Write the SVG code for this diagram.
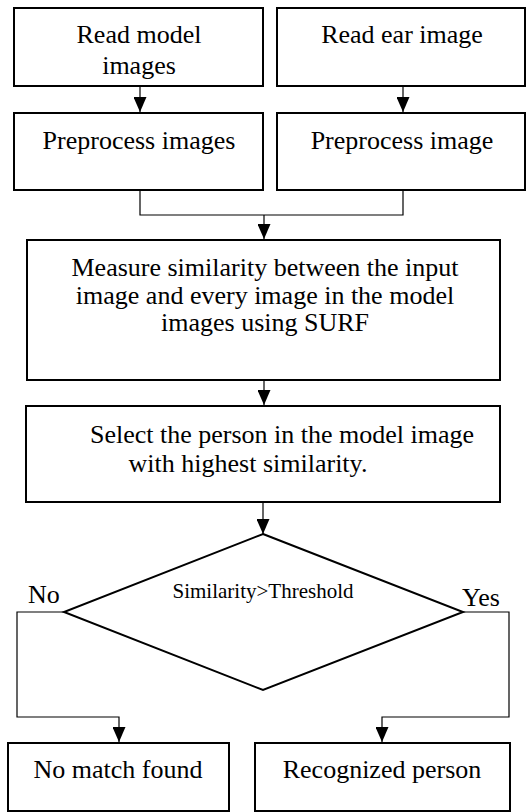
<svg xmlns="http://www.w3.org/2000/svg" width="527" height="812" viewBox="0 0 527 812">
<style>
  .box { fill: #fff; stroke: #000; stroke-width: 2; }
  .dia { fill: none; stroke: #000; stroke-width: 2; }
  .con { fill: none; stroke: #000; stroke-width: 1.2; }
  .arr { fill: none; stroke: #000; stroke-width: 1.2; marker-end: url(#ah); }
  .t { font-family: 'Liberation Serif', 'Times New Roman', serif; font-size: 26px; fill: #000; }
  .c { text-anchor: middle; }
  .s { font-size: 21px; }
</style>
<defs>
  <marker id="ah" markerUnits="userSpaceOnUse" markerWidth="15" markerHeight="13" refX="15" refY="6.5" orient="auto" viewBox="0 0 15 13">
    <path d="M0,0 L15,6.5 L0,13 z" fill="#000"/>
  </marker>
  <clipPath id="clip1"><rect x="15" y="9" width="247" height="73"/></clipPath>
</defs>
<g id="connectors">
  <line class="arr" x1="140" y1="86" x2="140" y2="112"/>
  <line class="arr" x1="403" y1="86" x2="403" y2="112"/>
  <polyline class="con" points="140,190 140,215 403,215 403,190"/>
  <line class="arr" x1="264" y1="215" x2="264" y2="239"/>
  <line class="arr" x1="264" y1="380" x2="264" y2="405"/>
  <line class="arr" x1="263" y1="502" x2="263" y2="534"/>
  <polyline class="arr" points="64,612 17,612 17,717 119,717 119,742"/>
  <polyline class="arr" points="463,612 509,612 509,717 382,717 382,742"/>
</g>
<g id="read-model">
  <rect class="box" x="14" y="8" width="249" height="78"/>
  <g clip-path="url(#clip1)">
    <text class="t c" x="139" y="43">Read model</text>
    <text class="t c" x="139" y="74">images</text>
  </g>
</g>
<g id="read-ear">
  <rect class="box" x="277" y="8" width="248" height="78"/>
  <text class="t c" x="402" y="43">Read ear image</text>
</g>
<g id="preprocess-images">
  <rect class="box" x="14" y="113" width="249" height="77"/>
  <text class="t c" x="139" y="149">Preprocess images</text>
</g>
<g id="preprocess-image">
  <rect class="box" x="277" y="113" width="248" height="77"/>
  <text class="t c" x="402" y="149">Preprocess image</text>
</g>
<g id="measure">
  <rect class="box" x="27" y="240" width="473" height="140"/>
  <text class="t c" x="265" y="276">Measure similarity between the input</text>
  <text class="t c" x="265" y="304">image and every image in the model</text>
  <text class="t c" x="265" y="331">images using SURF</text>
</g>
<g id="select">
  <rect class="box" x="26" y="406" width="474" height="96"/>
  <text class="t c" x="282" y="443">Select the person in the model image</text>
  <text class="t c" x="248" y="472">with highest similarity.</text>
</g>
<g id="decision">
  <polygon class="dia" points="263,534 463,612 263,690 64,612"/>
  <text class="t c s" x="263" y="598">Similarity&gt;Threshold</text>
  <text class="t" x="28" y="603">No</text>
  <text class="t" x="462" y="606">Yes</text>
</g>
<g id="no-match">
  <rect class="box" x="8" y="743" width="221" height="68"/>
  <text class="t c" x="118" y="778">No match found</text>
</g>
<g id="recognized">
  <rect class="box" x="255" y="743" width="255" height="68"/>
  <text class="t c" x="382" y="778">Recognized person</text>
</g>
</svg>
